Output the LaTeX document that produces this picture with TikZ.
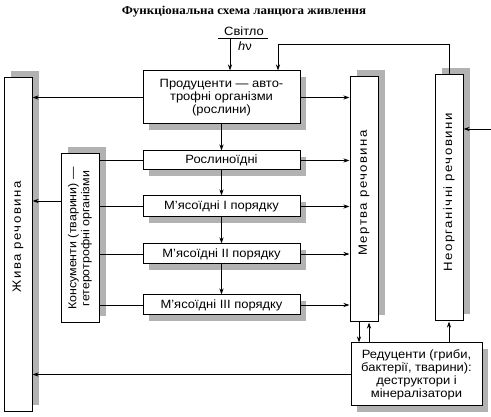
\documentclass[tikz,border=0pt]{standalone}
\usepackage{fontspec}
\setmainfont{Liberation Sans}[FakeStretch=1.08]
\newfontfamily\spacedfont{Liberation Sans}[LetterSpace=12,FakeStretch=1.1]
\newfontfamily\titlefont{Liberation Serif}[FakeStretch=1.08]
\usetikzlibrary{arrows.meta,shadows}

\tikzset{
  hbox/.style={draw, line width=1pt, fill=white, inner sep=2pt, align=center,
    general shadow={fill=gray!60, shadow xshift=6pt, shadow yshift=-6pt},
    font=\fontsize{12}{13}\selectfont},
  vbox/.style={draw, line width=1pt, fill=white,
    general shadow={fill=gray!60, shadow xshift=7pt, shadow yshift=7pt}},
  vtext/.style={rotate=90, align=center, font=\spacedfont\fontsize{12}{13}\selectfont},
  arr/.style={->, line width=0.9pt},
}

\begin{document}
\begin{tikzpicture}[x=1pt,y=-1pt,>={Stealth[length=6pt,width=4pt]}]
      \useasboundingbox (0,0) rectangle (491,417);

      \node[font=\titlefont\bfseries\fontsize{12}{13}\selectfont] (title) at (244,12) {Функціональна схема ланцюга живлення};
      \node[font=\fontsize{12}{13}\selectfont] (light) at (244,31) {Світло};
      \node[font=\fontsize{12}{13}\selectfont] (hv) at (245,46) {{\itshape h}ν};
      \coordinate (ul1) at (218,38);
      \coordinate (ul2) at (268,38);
      \coordinate (lightfoot) at (230,38);
      \coordinate (src) at (491,129);

      % vertical boxes
      \node[vbox, minimum width=28pt, minimum height=334pt] (L) at (18,245) {};
      \node[vtext] (Lt) at (18,237) {Жива речовина};
      \node[vbox, minimum width=38pt, minimum height=169pt] (K) at (80,238.5) {};
      \node[vtext, font=\fontsize{11.5}{13}\selectfont] (Kt) at (K) {Консументи (тварини) —\\гетеротрофні організми};
      \node[vbox, minimum width=28pt, minimum height=245pt] (D) at (364,199.5) {};
      \node[vtext] (Dt) at (364,193) {Мертва речовина};
      \node[vbox, minimum width=28pt, minimum height=246pt] (N) at (449,198) {};
      \node[vtext] (Nt) at (449,192.5) {Неорганічні речовини};
      \coordinate (Kout) at ([yshift=37.5pt]K.west);

      % horizontal boxes
      \node[hbox, minimum width=157pt, minimum height=53pt] (P) at (221.5,97.5) {Продуценти — авто-\\трофні організми\\(рослини)};
      \node[hbox, minimum width=157pt, minimum height=19pt] (R) at (221.5,160.5) {Рослиноїдні};
      \node[hbox, minimum width=157pt, minimum height=21pt] (M1) at (221.5,206.5) {М’ясоїдні I порядку};
      \node[hbox, minimum width=157pt, minimum height=20pt] (M2) at (221.5,254) {М’ясоїдні II порядку};
      \node[hbox, minimum width=157pt, minimum height=20pt] (M3) at (221.5,305) {М’ясоїдні III порядку};
      \node[hbox, minimum width=131pt, minimum height=63pt] (Rd) at (416.5,374.5) {Редуценти (гриби,\\бактерії, тварини):\\деструктори і\\мінералізатори};

      % light and cycle
      \draw[line width=0.9pt] (ul1) -- (ul2);
      \draw[arr] (lightfoot) -- (lightfoot |- P.north);
      \draw[arr] (N.north) -- ++(0,-30) -| ([xshift=56.5pt]P.north);
      \draw[arr] (src) -- (N.east |- src);

      % food chain
      \draw[arr] (P) -- (R);
      \draw[arr] (R) -- (M1);
      \draw[arr] (M1) -- (M2);
      \draw[arr] (M2) -- (M3);

      % to living and dead matter
      \draw[arr] (P.west) -- (L.east |- P.west);
      \draw[arr] (P.east) -- (D.west |- P.east);
      \draw[arr] (R.east) -- (D.west |- R.east);
      \draw[arr] (M1.east) -- (D.west |- M1.east);
      \draw[arr] (M2.east) -- (D.west |- M2.east);
      \draw[arr] (M3.east) -- (D.west |- M3.east);
      \draw[arr] (Kout) -- (L.east |- Kout);

      % consumers
      \draw[line width=0.9pt] (K.east |- R.west) -- (R.west);
      \draw[line width=0.9pt] (K.east |- M1.west) -- (M1.west);
      \draw[line width=0.9pt] (K.east |- M2.west) -- (M2.west);
      \draw[line width=0.9pt] (K.east |- M3.west) -- (M3.west);

      % reducers
      \draw[arr] ([xshift=-5pt]D.south) -- ([xshift=-5pt]D.south |- Rd.north);
      \draw[arr] ([xshift=5pt]D.south |- Rd.north) -- ([xshift=5pt]D.south);
      \draw[arr] (N.south |- Rd.north) -- (N.south);
      \draw[arr] (Rd.west) -- (L.east |- Rd.west);
\end{tikzpicture}
\end{document}
